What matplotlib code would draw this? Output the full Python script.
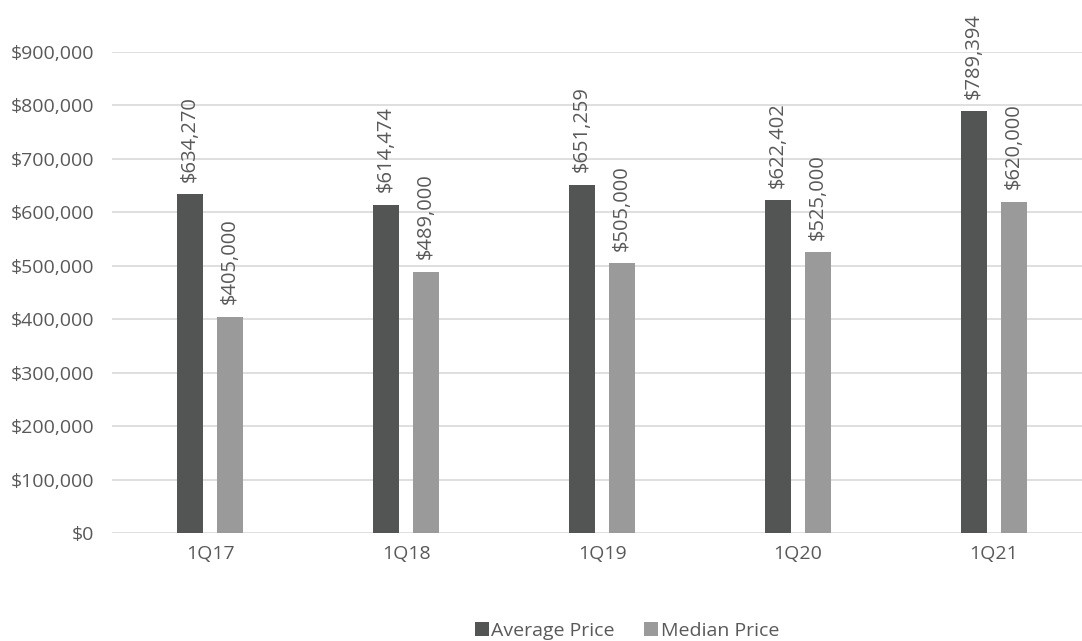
import numpy as np
import matplotlib.pyplot as plt
from matplotlib.ticker import FuncFormatter

quarters = ["1Q17", "1Q18", "1Q19", "1Q20", "1Q21"]
average_price = [634270, 614474, 651259, 622402, 789394]
median_price = [405000, 489000, 505000, 525000, 620000]

dark = "#535554"
light = "#9a9a9a"
text_col = "#595959"

plt.rcParams["font.family"] = ["Open Sans", "DejaVu Sans"]

fig = plt.figure(figsize=(10.82, 6.41), dpi=100)
# plot area runs a little past the right edge of the canvas
ax = fig.add_axes([112 / 1082, 108 / 641, 980 / 1082, 481 / 641])

x = np.arange(len(quarters))
w = 0.133
off = 0.102
b1 = ax.bar(x - off, average_price, w, color=dark, label="Average Price", zorder=3)
b2 = ax.bar(x + off, median_price, w, color=light, label="Median Price", zorder=3)

for bars, vals in ((b1, average_price), (b2, median_price)):
    for rect, v in zip(bars, vals):
        ax.annotate(f"${v:,}", (rect.get_x() + rect.get_width() / 2, v),
                    xytext=(0, 9), textcoords="offset points",
                    rotation=90, ha="center", va="bottom",
                    fontsize=14.5, color=text_col)

ax.set_xlim(-0.5, len(quarters) - 0.5)
ax.set_ylim(0, 900000)
ax.set_yticks(np.arange(0, 900001, 100000))
ax.yaxis.set_major_formatter(FuncFormatter(lambda v, p: f"${v:,.0f}"))
ax.set_xticks(x)
ax.set_xticklabels(quarters)
ax.tick_params(length=0, labelsize=14, labelcolor=text_col)
ax.tick_params(axis="y", pad=13)
ax.tick_params(axis="x", pad=9)
ax.grid(axis="y", color="#d9d9d9", linewidth=1.2, zorder=0)
for s in ax.spines.values():
    s.set_visible(False)

fig.legend(handles=[b1, b2], loc="center", bbox_to_anchor=(627 / 1082, 10 / 641),
           ncol=2, frameon=False, fontsize=14, labelcolor=text_col,
           handlelength=0.7, handleheight=0.7, handletextpad=0.15, columnspacing=1.5)

fig.savefig("out.png", dpi=100)
